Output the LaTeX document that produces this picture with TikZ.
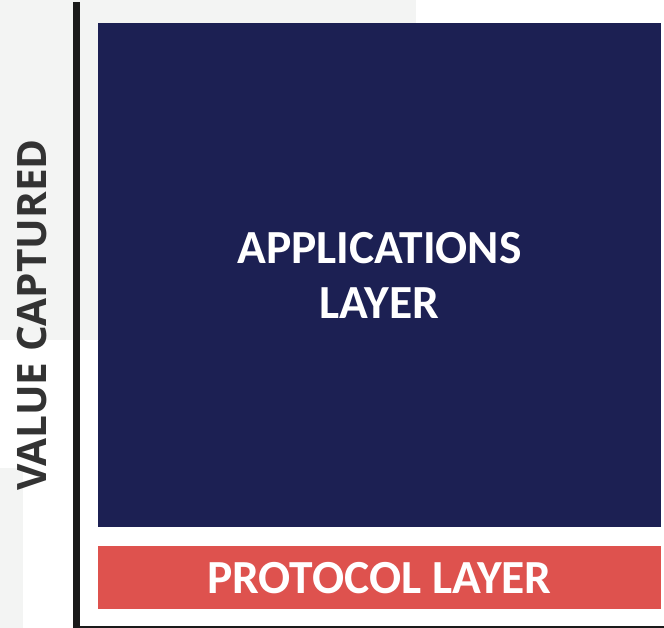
\documentclass[tikz,border=0pt]{standalone}
\usepackage{fontspec}
\newfontfamily\layerfont{Carlito}
\newfontfamily\axisfont{Open Sans}
\definecolor{vcNavy}{RGB}{28, 32, 83}
\definecolor{vcCoral}{RGB}{222, 82, 78}
\definecolor{vcFog}{RGB}{243, 244, 243}
\definecolor{vcInk}{RGB}{26, 26, 26}
\definecolor{vcGraphite}{RGB}{51, 51, 51}
\usepackage{tikz}
\usetikzlibrary{
  positioning,
  calc,
}

\begin{document}
\begin{tikzpicture}[
  x=1pt, y=-1pt,
  layer/.style={inner sep=0pt, outer sep=0pt, text=white, align=center,
    font=\layerfont\bfseries\fontsize{47.5}{55}\selectfont},
  axis/.style={line width=6.5pt, color=vcInk},
]
  \useasboundingbox (0,0) rectangle (664,628);

  % Backdrop panels
  \fill[vcFog] (0,0) rectangle (416,340);
  \fill[vcFog] (0,468) rectangle (23,628);

  % Axis
  \coordinate (top) at (76.5,5);
  \coordinate (corner) at (76.5,629.5);
  \coordinate (end) at (664,629.5);
  \draw[axis, line cap=rect] (top) -- (corner) -- (end);
  \node[rotate=90, text=vcGraphite, inner sep=0pt,
    font=\axisfont\bfseries\fontsize{40.5}{48}\selectfont] (value) at (32,315) {VALUE CAPTURED};

  % Applications layer
  \fill[vcNavy] (98,23) rectangle (661,527);
  \node[layer] (apps) at (379.5,275) {APPLICATIONS\\LAYER};

  % Protocol layer
  \fill[vcCoral] (98,546) rectangle (661,609);
  \node[layer] (proto) at (379.5,578) {PROTOCOL LAYER};

\end{tikzpicture}
\end{document}
